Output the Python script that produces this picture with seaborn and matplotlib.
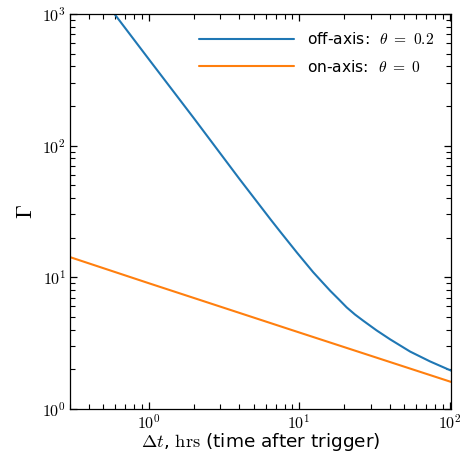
import numpy as np
import pandas as pd
import matplotlib
matplotlib.use("Agg")
import matplotlib.pyplot as plt
from matplotlib.ticker import LogLocator, FuncFormatter, NullFormatter
import seaborn as sns

# values (hours, Lorentz factor)
t_off = [0.55, 1.0, 2.0, 4.0, 6.5, 7.5, 9.7, 12.4, 14.2, 16.1, 18.3, 20.7, 23.5, 26.7, 32.7,
         40.2, 54.6, 74.0, 103.0]
gamma_off = [1120, 455, 161, 56, 27.2, 22.1, 15.3, 10.9, 9.2, 7.87, 6.8, 5.89, 5.2, 4.66, 3.94,
             3.37, 2.72, 2.29, 1.94]

t_on = [0.3, 1.0, 10.0, 102.0]
gamma_on = [14.2, 9.0, 3.8, 1.6]

labels = ["off-axis:  $\\theta\\ =\\ 0.2$", "on-axis:  $\\theta\\ =\\ 0$"]

df = pd.concat([
    pd.DataFrame({"t": t_off, "gamma": gamma_off, "case": labels[0]}),
    pd.DataFrame({"t": t_on, "gamma": gamma_on, "case": labels[1]}),
])

sns.set_style("ticks")
plt.rcParams['font.family'] = ['DejaVu Sans']
plt.rcParams['mathtext.fontset'] = 'cm'
plt.rcParams['text.color'] = 'black'
plt.rcParams['axes.labelcolor'] = 'black'

fig = plt.figure(figsize=(4.62, 4.61), dpi=100)
ax = fig.add_axes([0.1515, 0.1134, 0.8245, 0.8562])

sns.lineplot(data=df, x="t", y="gamma", hue="case", palette=["#1f77b4", "#ff7f0e"],
             linewidth=1.5, ax=ax, sort=False, estimator=None)

ax.set_xscale("log")
ax.set_yscale("log")
ax.set_xlim(0.3, 102)
ax.set_ylim(1, 1000)

pow_fmt = FuncFormatter(lambda v, p: "$10^{%d}$" % round(np.log10(v)))
for axis in (ax.xaxis, ax.yaxis):
    axis.set_major_locator(LogLocator(base=10))
    axis.set_minor_locator(LogLocator(base=10, subs=range(2, 10), numticks=20))
    axis.set_major_formatter(pow_fmt)
    axis.set_minor_formatter(NullFormatter())

ax.tick_params(which="both", direction="in", top=True, right=True, labelsize=11.5,
               colors="black")
ax.tick_params(which="major", length=5, width=0.9, pad=3)
ax.tick_params(which="minor", length=3.5, width=0.8)
for s in ax.spines.values():
    s.set_linewidth(0.9)
    s.set_color("black")

ax.set_xlabel("$\\Delta t$, $\\mathrm{hrs}$ (time after trigger)", fontsize=13.3, labelpad=0)
ax.set_ylabel("$\\Gamma$", fontsize=16, labelpad=4)

ax.legend(loc="upper right", frameon=False, fontsize=11.2, handlelength=6.1,
          labelspacing=0.75, title=None, borderaxespad=0.7)

fig.savefig("out.png", dpi=100)
